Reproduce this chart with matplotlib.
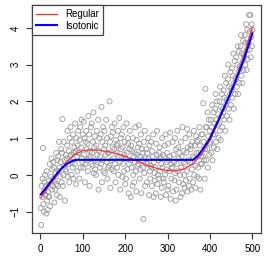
import numpy as np
import matplotlib
matplotlib.use("Agg")
import matplotlib.pyplot as plt

# scatter data: x = 1..500, y values in bins of 10
y_bins = [
    [-0.9, -1.36, -0.3, -0.6, -0.1, 0.73, -0.8, -1.0, -0.45, -0.2],
    [0.0, -0.55, -0.3, -1.05, 0.1, -0.7, -0.95, -0.45, -0.6, -0.15],
    [-0.6, 0.3, -0.85, -0.25, -0.05, 0.45, -0.4, 0.15, -0.3, -0.1],
    [0.35, 0.2, -0.75, -0.15, -0.4, 0.05, 0.6, -0.25, -0.55, 0.4],
    [-0.3, 0.5, 0.1, 0.9, 0.2, -0.6, -0.05, 0.35, 0.7, -0.2],
    [0.6, 1.52, -0.3, 0.0, 0.9, 0.25, 0.4, -0.7, 0.15, 0.55],
    [0.1, 0.45, 0.8, 1.2, -0.05, 0.3, 0.65, -0.2, 1.0, 0.5],
    [1.3, 0.55, 0.0, 0.9, 0.35, 0.2, 1.1, -0.1, 0.6, 0.75],
    [0.3, 1.4, 0.65, -0.25, 1.0, 0.5, 0.1, 0.8, 1.2, 0.6],
    [0.6, -0.1, 0.95, 1.3, 0.2, 0.75, 1.5, 0.45, 0.35, 1.1],
    [0.2, 1.45, 0.55, 1.0, -0.2, 0.3, 0.9, 1.2, 0.7, 0.4],
    [0.85, 0.1, 1.6, 0.45, 1.1, -0.3, 0.65, 0.5, 1.3, 0.3],
    [1.4, 0.6, 0.25, 0.9, 1.7, 0.05, 0.75, 1.05, 0.15, 0.4],
    [0.0, 0.8, 1.2, 0.55, 0.35, 1.5, -0.4, 0.65, 1.0, 0.2],
    [0.5, 1.1, 0.3, 1.85, -0.2, 0.9, 0.4, 1.3, 0.1, 0.7],
    [1.2, 0.05, 0.8, 0.55, 1.5, 0.35, 1.0, -0.1, 0.6, 0.2],
    [0.6, 0.25, 2.0, 0.9, -0.35, 1.05, 0.4, 0.15, 1.3, 0.75],
    [1.15, 0.45, 0.1, 0.7, 1.4, 0.3, -0.2, 0.95, 0.6, 0.8],
    [0.2, 0.85, 1.2, 0.0, 0.5, 1.55, 0.35, -0.4, 1.0, 0.7],
    [0.5, 1.1, -0.05, 0.75, 0.3, 1.3, 0.1, 0.55, 0.9, -0.25],
    [0.45, -0.1, 1.4, 0.6, 0.15, 1.0, 0.85, -0.5, 0.3, 0.7],
    [1.2, 0.4, -0.6, 0.8, 0.2, 0.65, -0.3, 1.0, 0.0, 0.5],
    [-0.2, 0.6, 0.35, 1.3, 0.1, -0.45, 0.95, 0.55, 0.25, 0.75],
    [0.3, 1.35, 0.85, -0.1, 0.5, 0.15, 1.1, -0.5, 0.7, 0.4],
    [0.6, 0.2, -1.2, 0.9, 0.05, 1.2, -0.3, 0.45, 0.3, 0.7],
    [-0.2, 0.6, 0.3, 1.0, 0.45, -0.55, 0.8, 0.1, -0.1, 0.25],
    [0.9, 0.2, -0.3, 0.65, 0.5, 1.1, -0.6, 0.35, 0.05, -0.15],
    [0.2, -0.5, 0.85, 0.55, 1.2, -0.25, 0.0, 0.4, -0.1, 0.6],
    [0.75, 0.1, 0.45, -0.6, 0.3, -0.35, 1.0, 0.2, 0.55, -0.1],
    [-0.2, 0.5, 0.8, 0.0, 1.1, -0.55, 0.15, 0.35, 0.6, -0.4],
    [0.85, -0.3, 0.4, 0.1, 0.5, 1.15, -0.65, 0.3, -0.1, 0.2],
    [0.2, 0.9, -0.45, 0.55, 0.35, -0.15, 1.0, 0.05, -0.7, 0.7],
    [-0.4, 0.3, 1.2, 0.1, 0.75, 0.45, -0.2, 0.6, 0.0, -0.6],
    [0.9, 0.2, 0.5, -0.5, 1.3, -0.25, 0.65, 0.35, 0.0, -0.35],
    [0.3, 1.0, -0.15, 0.6, 0.1, 1.25, -0.45, 0.75, 0.4, -0.3],
    [1.1, -0.1, 0.35, 0.7, 0.8, -0.4, 0.15, 0.9, 0.5, -0.2],
    [0.45, 1.2, 0.0, 0.8, -0.35, 0.25, 1.05, 0.6, 0.9, -0.05],
    [0.95, 0.2, 0.6, -0.1, 1.3, 0.8, -0.4, 0.3, 0.5, 1.1],
    [0.3, 1.1, 0.5, 1.95, 0.9, 0.4, -0.1, 0.7, 2.34, 1.3],
    [0.4, 1.3, 0.7, 1.7, 0.2, 1.05, 1.5, 0.55, 1.2, 0.85],
    [0.9, 1.5, 0.6, 1.3, 1.9, 0.4, 1.1, 1.7, 0.75, 1.4],
    [1.1, 1.8, 2.2, 0.9, 1.5, 2.0, 0.7, 1.35, 1.65, 1.0],
    [1.4, 2.0, 1.2, 2.4, 0.95, 1.85, 1.6, 2.2, 1.3, 1.8],
    [1.7, 2.3, 1.5, 2.1, 2.7, 1.2, 1.9, 2.5, 2.05, 1.6],
    [2.0, 2.6, 3.0, 1.8, 2.4, 1.5, 2.2, 2.8, 1.9, 2.35],
    [2.3, 2.9, 2.1, 2.7, 3.3, 1.8, 2.5, 3.1, 2.2, 2.65],
    [2.6, 3.2, 2.4, 3.0, 3.5, 2.2, 2.8, 3.35, 2.5, 2.95],
    [2.9, 3.5, 3.8, 2.7, 3.3, 2.5, 3.1, 3.65, 2.85, 3.25],
    [3.2, 3.8, 3.0, 3.6, 4.1, 2.85, 3.4, 3.95, 3.15, 3.55],
    [3.6, 4.35, 3.4, 3.9, 4.35, 3.2, 3.75, 4.1, 3.5, 3.95],
]
y_points = [v for b in y_bins for v in b]
x_points = list(range(1, len(y_points) + 1))

# Regular (red) fit
reg_x = [1, 20, 40, 60, 80, 100, 120, 140, 160, 180, 200, 220, 240, 260, 280,
         300, 320, 340, 360, 380, 400, 420, 440, 460, 480, 500]
reg_y = [-0.63, -0.3, 0.0, 0.33, 0.55, 0.66, 0.68, 0.67, 0.63, 0.58, 0.5, 0.41,
         0.32, 0.23, 0.16, 0.12, 0.11, 0.17, 0.3, 0.55, 0.95, 1.45, 2.0, 2.6,
         3.25, 4.02]

# Isotonic (blue) fit
iso_x = [1, 10, 20, 30, 40, 50, 60, 70, 80, 88, 360, 370, 380, 400, 420, 440,
         460, 480, 500]
iso_y = [-0.53, -0.4, -0.25, -0.1, 0.05, 0.18, 0.28, 0.35, 0.40, 0.41, 0.41,
         0.5, 0.65, 1.0, 1.5, 2.0, 2.55, 3.15, 3.85]

x_ticks = [0, 100, 200, 300, 400, 500]
y_ticks = [-1, 0, 1, 2, 3, 4]

plt.rcParams['font.family'] = ['Liberation Sans', 'DejaVu Sans']
fig = plt.figure(figsize=(2.66, 2.66), dpi=100)
ax = fig.add_axes([0.120, 0.124, 0.861, 0.857])

ax.scatter(x_points, y_points, s=13, facecolors='none', edgecolors='#9a9a9a',
           linewidths=0.6, zorder=2)
ax.plot(reg_x, reg_y, color='#ff3030', lw=0.9, label='Regular', zorder=3)
ax.plot(iso_x, iso_y, color='#0000ff', lw=1.5, label='Isotonic', zorder=4)

ax.set_xlim(-20, 520)
ax.set_ylim(-1.58, 4.62)
ax.set_xticks(x_ticks)
ax.set_yticks(y_ticks)
ax.tick_params(direction='out', length=4, width=0.8, colors='#333333',
               labelsize=7, labelcolor='black', pad=4)
for lab in ax.get_yticklabels():
    lab.set_rotation(90)
    lab.set_va('center')
for s in ax.spines.values():
    s.set_color('#444444')
    s.set_linewidth(0.9)

leg = ax.legend(loc='upper left', borderaxespad=0, fontsize=7, fancybox=False,
                framealpha=1, edgecolor='#444444', handlelength=2.2,
                borderpad=0.4, labelspacing=0.2, handletextpad=0.8)
leg.get_frame().set_linewidth(0.9)

fig.savefig('out.png', dpi=100)
